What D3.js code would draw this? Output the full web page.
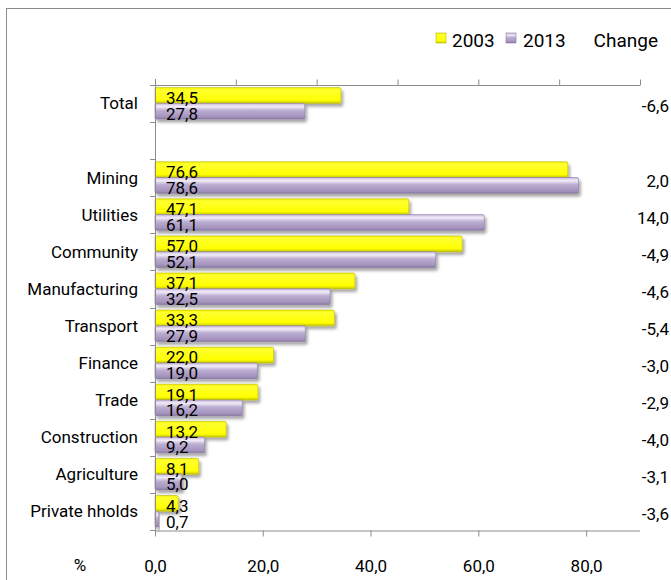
<!DOCTYPE html>
<html>
<head>
<meta charset="utf-8">
<script src="https://cdn.jsdelivr.net/npm/d3@7"></script>
<style>
  html, body { margin: 0; padding: 0; background: #fff; }
  svg { display: block; }
  text { font-family: Roboto, "Liberation Sans Narrow", "Open Sans", sans-serif; fill: #000; }
</style>
</head>
<body>
<svg id="chart" width="671" height="580"></svg>
<script>
// ---- data ----
const categories = ["Total", "", "Mining", "Utilities", "Community", "Manufacturing", "Transport", "Finance", "Trade", "Construction", "Agriculture", "Private hholds"];
const values2003 = [34.5, null, 76.6, 47.1, 57.0, 37.1, 33.3, 22.0, 19.1, 13.2, 8.1, 4.3];
const values2013 = [27.8, null, 78.6, 61.1, 52.1, 32.5, 27.9, 19.0, 16.2, 9.2, 5.0, 0.7];
const changes    = [-6.6, null, 2.0, 14.0, -4.9, -4.6, -5.4, -3.0, -2.9, -4.0, -3.1, -3.6];
const seriesNames = ["2003", "2013"];
const xTicks = [0, 20, 40, 60, 80];
const xTopTicks = [0, 15, 30, 45, 60, 75, 90];
const xMax = 90;

const fmt = v => v.toFixed(1).replace(".", ",");
const FONT = "Roboto, 'Open Sans', sans-serif";

const svg = d3.select("#chart");
const defs = svg.append("defs");

// gradients
const gY = defs.append("linearGradient").attr("id", "gYellow").attr("x1", 0).attr("y1", 0).attr("x2", 0).attr("y2", 1);
gY.append("stop").attr("offset", "0%").attr("stop-color", "#f4f400");
gY.append("stop").attr("offset", "15%").attr("stop-color", "#ffff30");
gY.append("stop").attr("offset", "80%").attr("stop-color", "#ffff00");
gY.append("stop").attr("offset", "100%").attr("stop-color", "#c8c800");

const gP = defs.append("linearGradient").attr("id", "gPurple").attr("x1", 0).attr("y1", 0).attr("x2", 0).attr("y2", 1);
gP.append("stop").attr("offset", "0%").attr("stop-color", "#c8b8dc");
gP.append("stop").attr("offset", "20%").attr("stop-color", "#f2ecf8");
gP.append("stop").attr("offset", "45%").attr("stop-color", "#bcaed2");
gP.append("stop").attr("offset", "85%").attr("stop-color", "#a493bd");
gP.append("stop").attr("offset", "100%").attr("stop-color", "#8a7aa2");

const shadow = defs.append("filter").attr("id", "shadow").attr("x", "-10%").attr("y", "-30%").attr("width", "130%").attr("height", "190%");
shadow.append("feDropShadow").attr("dx", 2).attr("dy", 3).attr("stdDeviation", 1.6).attr("flood-color", "#000").attr("flood-opacity", 0.35);

const fills = { "2003": "url(#gYellow)", "2013": "url(#gPurple)" };
const strokes = { "2003": "#b8b800", "2013": "#8878a0" };

// outer border
svg.append("rect").attr("x", 6.5).attr("y", 8.5).attr("width", 720).attr("height", 620)
  .attr("fill", "none").attr("stroke", "#8c8c8c").attr("stroke-width", 1);

// scales
const x = d3.scaleLinear().domain([0, xMax]).range([155, 640]);
const y = d3.scaleBand().domain(d3.range(categories.length)).range([85, 530]).paddingInner(0).paddingOuter(0);
const bw = y.bandwidth();
const ySub = d3.scaleBand().domain(seriesNames).range([bw * 0.07, bw * 0.92]).padding(0);

const axisColor = "#8c8c8c";

// bars
const rows = categories.map((c, i) => ({ i, c, v: { "2003": values2003[i], "2013": values2013[i] }, ch: changes[i] }));
const g = svg.append("g");
rows.forEach(r => {
  seriesNames.forEach(s => {
    const v = r.v[s];
    if (v == null) return;
    const yy = y(r.i) + ySub(s);
    g.append("rect")
      .attr("x", x(0)).attr("y", yy)
      .attr("width", Math.max(1, x(v) - x(0))).attr("height", ySub.bandwidth())
      .attr("fill", fills[s]).attr("stroke", strokes[s]).attr("stroke-width", 0.6)
      .attr("rx", 1.5)
      .attr("filter", "url(#shadow)");
  });
});

// value labels
rows.forEach(r => {
  seriesNames.forEach(s => {
    const v = r.v[s];
    if (v == null) return;
    const yy = y(r.i) + ySub(s) + ySub.bandwidth();
    svg.append("text").attr("x", x(0) + 11).attr("y", yy + 0.5)
      .attr("font-size", 17).text(fmt(v));
  });
});

// left axis (category)
const yAxisG = svg.append("g").attr("transform", `translate(${x(0)},0)`);
yAxisG.append("line").attr("x1", 0.5).attr("x2", 0.5).attr("y1", 79).attr("y2", 530).attr("stroke", axisColor);
d3.range(categories.length + 1).forEach(k => {
  const yy = Math.round(85 + k * bw) + 0.5;
  yAxisG.append("line").attr("x1", -5).attr("x2", 0.5).attr("y1", yy).attr("y2", yy).attr("stroke", axisColor);
});
rows.forEach(r => {
  svg.append("text").attr("x", 138).attr("y", y(r.i) + bw / 2).attr("dy", "0.35em")
    .attr("text-anchor", "end").attr("font-size", 17).text(r.c);
});

// bottom axis
const bottomAxis = d3.axisBottom(x).tickValues(xTicks).tickSize(6).tickFormat(fmt);
const bAx = svg.append("g").attr("transform", "translate(0,530.5)").call(bottomAxis);
bAx.select(".domain").attr("stroke", axisColor).attr("d", `M${x(0)},0.5H${x(xMax)}`);
bAx.selectAll(".tick line").attr("stroke", axisColor);
bAx.selectAll(".tick text").attr("font-size", 17).attr("dy", 0).attr("y", 41)
  .attr("font-family", FONT).attr("fill", "#000");
svg.append("text").attr("x", 80).attr("y", 571).attr("text-anchor", "middle").attr("font-size", 17).text("%");

// top axis (ticks only)
const topAxis = d3.axisTop(x).tickValues(xTopTicks).tickSize(6).tickFormat("");
const tAx = svg.append("g").attr("transform", "translate(0,85.5)").call(topAxis);
tAx.select(".domain").attr("stroke", axisColor).attr("d", `M${x(0) - 5},0H${x(xMax)}`);
tAx.selectAll(".tick line").attr("stroke", axisColor);

// change column
rows.forEach(r => {
  if (r.ch == null) return;
  svg.append("text").attr("x", 669).attr("y", y(r.i) + bw / 2 + 3).attr("dy", "0.35em")
    .attr("text-anchor", "end").attr("font-size", 17).text(fmt(r.ch));
});

// legend
const legend = svg.append("g");
const legendItems = [{ s: "2003", xs: 436, xt: 452 }, { s: "2013", xs: 506, xt: 523 }];
legendItems.forEach(d => {
  legend.append("rect").attr("x", d.xs).attr("y", 33).attr("width", 10).attr("height", 10)
    .attr("fill", fills[d.s]).attr("stroke", strokes[d.s]).attr("stroke-width", 0.6);
  legend.append("text").attr("x", d.xt).attr("y", 46.5).attr("font-size", 19).text(d.s);
});
legend.append("text").attr("x", 658).attr("y", 46.5).attr("text-anchor", "end").attr("font-size", 19).text("Change");
</script>
</body>
</html>
